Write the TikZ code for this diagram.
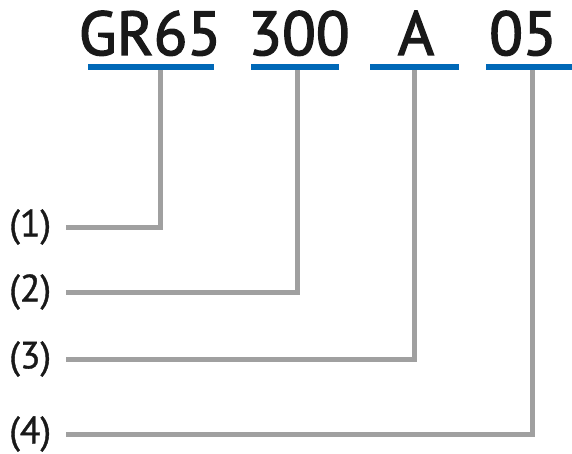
\documentclass[tikz,border=0pt]{standalone}
\usepackage{fontspec}
\setmainfont{PT Sans}
\newfontfamily\codefont{PT Sans}[FakeBold=2.2]
\newfontfamily\numfont{PT Sans}[FakeBold=1]
\usetikzlibrary{positioning}
\definecolor{codeblue}{HTML}{0068B7}
\definecolor{leadgray}{HTML}{A0A0A0}
\tikzset{
  code/.style={font=\fontsize{62}{62}\codefont, text=black!90, inner sep=0pt, anchor=base},
  bar/.style={fill=codeblue, inner sep=0pt, minimum height=6pt, anchor=north},
  num/.style={font=\fontsize{38}{38}\numfont, text=black!90, inner sep=0pt, anchor=west},
  lead/.style={draw=leadgray, line width=5pt},
}
\begin{document}
\begin{tikzpicture}[x=1pt, y=-1pt]
  \useasboundingbox (0,0) rectangle (572,454);

  % the code and its parts
  \node[code] (gr) at (150,55) {GR65};
  \node[code] (len) at (299,55) {300};
  \node[code] (typ) at (416,55) {A};
  \node[code] (opt) at (523,55) {05};
  \node[bar, minimum width=126pt] (bar1) at (151,64) {};
  \node[bar, minimum width=88pt] (bar2) at (295,64) {};
  \node[bar, minimum width=89pt] (bar3) at (414.5,64) {};
  \node[bar, minimum width=86pt] (bar4) at (529,64) {};

  % numbered labels
  \node[num] (n1) at (9,227) {(1)};
  \node[num] (n2) at (9,292) {(2)};
  \node[num] (n3) at (9,359) {(3)};
  \node[num] (n4) at (9,434) {(4)};

  % leader lines
  \draw[lead] ([xshift=9pt]bar1.south) |- ([xshift=15pt]n1.east);
  \draw[lead] ([xshift=2pt]bar2.south) |- ([xshift=15pt]n2.east);
  \draw[lead] (bar3.south) |- ([xshift=15pt]n3.east);
  \draw[lead] ([xshift=3pt]bar4.south) |- ([xshift=15pt]n4.east);
\end{tikzpicture}
\end{document}
